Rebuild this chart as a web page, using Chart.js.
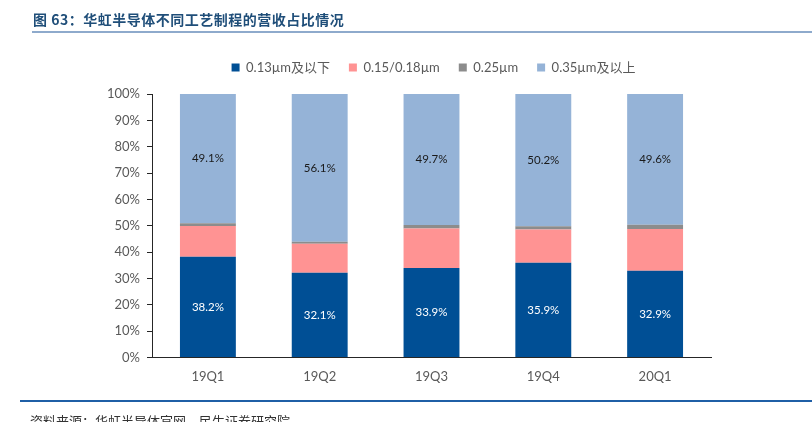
<!DOCTYPE html>
<html><head><meta charset="utf-8">
<script src="https://cdn.jsdelivr.net/npm/chart.js@4.4.1/dist/chart.umd.min.js"></script>
<style>
html,body{margin:0;padding:0;width:812px;height:422px;overflow:hidden;background:#fff;}
#title{position:absolute;left:33px;top:9px;font:bold 14px "Noto Sans CJK SC",sans-serif;color:#1f4e79;white-space:nowrap;letter-spacing:0.5px;}
#tline{position:absolute;left:32px;top:31px;width:780px;height:2px;background:#8eaacc;}
#fline{position:absolute;left:20px;top:400px;width:792px;height:2px;background:#1f5fa6;}
#foot{position:absolute;left:30px;top:411px;font:13px "Noto Sans CJK SC",sans-serif;color:#333;white-space:nowrap;}
#wrap{position:absolute;left:0;top:0;width:812px;height:422px;}
</style></head>
<body>
<div id="wrap"><canvas id="c"></canvas></div>
<div id="title">图 63：华虹半导体不同工艺制程的营收占比情况</div>
<div id="tline"></div>
<div id="fline"></div>
<div id="foot">资料来源：华虹半导体官网，民生证券研究院</div>
<script>
const categories = ["19Q1","19Q2","19Q3","19Q4","20Q1"];
const seriesNames = ["0.13\u00b5m及以下","0.15/0.18\u00b5m","0.25\u00b5m","0.35\u00b5m及以上"];
const s013 = [38.2, 32.1, 33.9, 35.9, 32.9];
const s015 = [11.7, 11.0, 15.0, 12.7, 15.8];
const s025 = [1.0, 0.8, 1.4, 1.2, 1.7];
const s035 = [49.1, 56.1, 49.7, 50.2, 49.6];
const yTicks = [0,10,20,30,40,50,60,70,80,90,100];
const colors = ["#004f95","#ff9393","#8c8c8c","#95b3d7"];
const labelColors = ["#ffffff", null, null, "#1a1a1a"];

const FONT = "Lato, 'Noto Sans CJK SC', sans-serif";

const labelPlugin = {
  id: 'segLabels',
  afterDatasetsDraw(chart){
    const ctx = chart.ctx;
    chart.data.datasets.forEach((ds, i) => {
      const col = labelColors[i];
      if(!col) return;
      const meta = chart.getDatasetMeta(i);
      meta.data.forEach((bar, j) => {
        const y = (bar.y + bar.base) / 2;
        ctx.save();
        ctx.fillStyle = col;
        ctx.font = "11.5px " + FONT;
        ctx.textAlign = 'center';
        ctx.textBaseline = 'middle';
        ctx.fillText(ds.data[j].toFixed(1) + '%', bar.x, y);
        ctx.restore();
      });
    });
  }
};
const legendPad = {
  id: 'legendPad',
  beforeInit(chart){
    const orig = chart.legend.fit;
    chart.legend.fit = function(){ orig.bind(chart.legend)(); this.height += 10; };
  },
  afterLayout(chart){
    chart.legend.left += 78;
    chart.legend.right += 78;
  }
};

const data = [s013, s015, s025, s035];
new Chart(document.getElementById('c'), {
  type: 'bar',
  data: {
    labels: categories,
    datasets: data.map((d, i) => ({
      label: seriesNames[i],
      data: d,
      backgroundColor: colors[i],
      borderWidth: 0,
      barPercentage: 0.5,
      categoryPercentage: 1.0
    }))
  },
  options: {
    responsive: true,
    maintainAspectRatio: false,
    animation: false,
    devicePixelRatio: 1,
    layout: { padding: { top: 42, left: 0, right: 101, bottom: 25 } },
    plugins: {
      legend: {
        position: 'top',
        labels: {
          boxWidth: 8, boxHeight: 8, padding: 19,
          color: '#595959',
          font: { size: 13, family: FONT }
        }
      },
      tooltip: { enabled: false }
    },
    scales: {
      x: {
        stacked: true,
        grid: { display: false, drawTicks: false },
        border: { color: '#262626', width: 1 },
        ticks: { color: '#595959', font: { size: 13, family: FONT }, padding: 12 }
      },
      y: {
        stacked: true,
        min: 0, max: 100,
        afterFit(scale){ scale.width = 152; },
        afterBuildTicks(scale){ scale.ticks = yTicks.map(v => ({ value: v })); },
        grid: { drawOnChartArea: false, drawTicks: true, tickLength: 5, color: '#262626' },
        border: { color: '#262626', width: 1 },
        ticks: { color: '#595959', font: { size: 13, family: FONT }, padding: 7, callback: v => v + '%' }
      }
    }
  },
  plugins: [labelPlugin, legendPad]
});
</script>
</body></html>
